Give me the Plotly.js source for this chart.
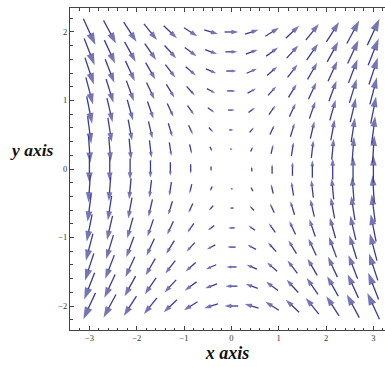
<!DOCTYPE html>
<html>
<head>
<meta charset="utf-8">
<script src="https://cdn.plot.ly/plotly-3.0.1.min.js"></script>
<style>html,body{margin:0;padding:0;background:#fff;}#plot{width:385px;height:367px;}</style>
</head>
<body>
<div id="plot"></div>
<script>
// Grid sample positions (15 x 15)
const xs = [-3, -2.57, -2.14, -1.71, -1.29, -0.86, -0.43, 0, 0.43, 0.86, 1.29, 1.71, 2.14, 2.57, 3];
const ys = [-2, -1.71, -1.43, -1.14, -0.86, -0.57, -0.29, 0, 0.29, 0.57, 0.86, 1.14, 1.43, 1.71, 2];

// Horizontal component of the field, one row per ys value
const U = [
  [-2,-2,-2,-2,-2,-2,-2,-2,-2,-2,-2,-2,-2,-2,-2],
  [-1.71,-1.71,-1.71,-1.71,-1.71,-1.71,-1.71,-1.71,-1.71,-1.71,-1.71,-1.71,-1.71,-1.71,-1.71],
  [-1.43,-1.43,-1.43,-1.43,-1.43,-1.43,-1.43,-1.43,-1.43,-1.43,-1.43,-1.43,-1.43,-1.43,-1.43],
  [-1.14,-1.14,-1.14,-1.14,-1.14,-1.14,-1.14,-1.14,-1.14,-1.14,-1.14,-1.14,-1.14,-1.14,-1.14],
  [-0.86,-0.86,-0.86,-0.86,-0.86,-0.86,-0.86,-0.86,-0.86,-0.86,-0.86,-0.86,-0.86,-0.86,-0.86],
  [-0.57,-0.57,-0.57,-0.57,-0.57,-0.57,-0.57,-0.57,-0.57,-0.57,-0.57,-0.57,-0.57,-0.57,-0.57],
  [-0.29,-0.29,-0.29,-0.29,-0.29,-0.29,-0.29,-0.29,-0.29,-0.29,-0.29,-0.29,-0.29,-0.29,-0.29],
  [0,0,0,0,0,0,0,0,0,0,0,0,0,0,0],
  [0.29,0.29,0.29,0.29,0.29,0.29,0.29,0.29,0.29,0.29,0.29,0.29,0.29,0.29,0.29],
  [0.57,0.57,0.57,0.57,0.57,0.57,0.57,0.57,0.57,0.57,0.57,0.57,0.57,0.57,0.57],
  [0.86,0.86,0.86,0.86,0.86,0.86,0.86,0.86,0.86,0.86,0.86,0.86,0.86,0.86,0.86],
  [1.14,1.14,1.14,1.14,1.14,1.14,1.14,1.14,1.14,1.14,1.14,1.14,1.14,1.14,1.14],
  [1.43,1.43,1.43,1.43,1.43,1.43,1.43,1.43,1.43,1.43,1.43,1.43,1.43,1.43,1.43],
  [1.71,1.71,1.71,1.71,1.71,1.71,1.71,1.71,1.71,1.71,1.71,1.71,1.71,1.71,1.71],
  [2,2,2,2,2,2,2,2,2,2,2,2,2,2,2]
];

// Vertical component of the field, one row per ys value
const V = [
  [-3,-2.57,-2.14,-1.71,-1.29,-0.86,-0.43,0,0.43,0.86,1.29,1.71,2.14,2.57,3],
  [-3,-2.57,-2.14,-1.71,-1.29,-0.86,-0.43,0,0.43,0.86,1.29,1.71,2.14,2.57,3],
  [-3,-2.57,-2.14,-1.71,-1.29,-0.86,-0.43,0,0.43,0.86,1.29,1.71,2.14,2.57,3],
  [-3,-2.57,-2.14,-1.71,-1.29,-0.86,-0.43,0,0.43,0.86,1.29,1.71,2.14,2.57,3],
  [-3,-2.57,-2.14,-1.71,-1.29,-0.86,-0.43,0,0.43,0.86,1.29,1.71,2.14,2.57,3],
  [-3,-2.57,-2.14,-1.71,-1.29,-0.86,-0.43,0,0.43,0.86,1.29,1.71,2.14,2.57,3],
  [-3,-2.57,-2.14,-1.71,-1.29,-0.86,-0.43,0,0.43,0.86,1.29,1.71,2.14,2.57,3],
  [-3,-2.57,-2.14,-1.71,-1.29,-0.86,-0.43,0,0.43,0.86,1.29,1.71,2.14,2.57,3],
  [-3,-2.57,-2.14,-1.71,-1.29,-0.86,-0.43,0,0.43,0.86,1.29,1.71,2.14,2.57,3],
  [-3,-2.57,-2.14,-1.71,-1.29,-0.86,-0.43,0,0.43,0.86,1.29,1.71,2.14,2.57,3],
  [-3,-2.57,-2.14,-1.71,-1.29,-0.86,-0.43,0,0.43,0.86,1.29,1.71,2.14,2.57,3],
  [-3,-2.57,-2.14,-1.71,-1.29,-0.86,-0.43,0,0.43,0.86,1.29,1.71,2.14,2.57,3],
  [-3,-2.57,-2.14,-1.71,-1.29,-0.86,-0.43,0,0.43,0.86,1.29,1.71,2.14,2.57,3],
  [-3,-2.57,-2.14,-1.71,-1.29,-0.86,-0.43,0,0.43,0.86,1.29,1.71,2.14,2.57,3],
  [-3,-2.57,-2.14,-1.71,-1.29,-0.86,-0.43,0,0.43,0.86,1.29,1.71,2.14,2.57,3]
];

const xTicks = [-3, -2, -1, 0, 1, 2, 3];
const yTicks = [-2, -1, 0, 1, 2];

// Style constants for arrow drawing
const ARROW_SCALE = 0.174;
const ARROW_SAT = 10;
const HEAD_PER_MAG = 3.6;
const ARROW_COLOR = '#3a3a9a';

const ax = [], ay = [], sz = [];
for (let j = 0; j < ys.length; j++) {
  for (let i = 0; i < xs.length; i++) {
    const u = U[j][i], v = V[j][i];
    const m = Math.hypot(u, v);
    if (m === 0) continue;
    const k = ARROW_SCALE / (1 + m / ARROW_SAT);
    const dx = u * k, dy = v * k;
    ax.push(xs[i] - dx / 2, xs[i] + dx / 2, null);
    ay.push(ys[j] - dy / 2, ys[j] + dy / 2, null);
    sz.push(0, HEAD_PER_MAG * m, 0);
  }
}

const trace = {
  type: 'scatter',
  mode: 'lines+markers',
  x: ax,
  y: ay,
  connectgaps: false,
  hoverinfo: 'skip',
  line: {color: ARROW_COLOR, width: 1.3},
  marker: {symbol: 'arrow', size: sz, angleref: 'previous', color: ARROW_COLOR, line: {width: 0}}
};

const serif = 'Liberation Serif, Times New Roman, serif';
const tickFont = {family: serif, size: 8.5, color: '#333'};
const layout = {
  width: 385, height: 367,
  margin: {l: 70, r: 0, t: 8, b: 37},
  paper_bgcolor: '#fff', plot_bgcolor: '#fff',
  showlegend: false,
  xaxis: {
    range: [-3.41, 3.245], showgrid: false, zeroline: false,
    showline: true, linecolor: '#444', linewidth: 1, mirror: 'ticks',
    tickmode: 'array', tickvals: xTicks, ticktext: xTicks.map(t => t < 0 ? '\u2212' + Math.abs(t) : String(t)),
    ticks: 'inside', ticklen: 4, tickcolor: '#444', tickfont: tickFont,
    minor: {dtick: 0.2, tick0: 0, ticks: 'inside', ticklen: 2.5, tickcolor: '#444', showgrid: false},
    title: {text: '<b><i>x axis</i></b>', font: {family: serif, size: 18, color: '#111'}, standoff: 2}
  },
  yaxis: {
    range: [-2.35, 2.35], showgrid: false, zeroline: false,
    showline: true, linecolor: '#444', linewidth: 1, mirror: false,
    tickmode: 'array', tickvals: yTicks, ticktext: yTicks.map(t => t < 0 ? '\u2212' + Math.abs(t) : String(t)),
    ticks: 'inside', ticklen: 4, tickcolor: '#444', tickfont: tickFont,
    minor: {dtick: 0.2, tick0: 0, ticks: 'inside', ticklen: 2.5, tickcolor: '#444', showgrid: false}
  },
  annotations: [{
    text: '<b><i>y axis</i></b>', xref: 'paper', yref: 'paper', x: -0.12, y: 0.56,
    xanchor: 'center', yanchor: 'middle', showarrow: false,
    font: {family: serif, size: 17.5, color: '#111'}
  }]
};

Plotly.newPlot('plot', [trace], layout, {staticPlot: true, displayModeBar: false});
</script>
</body>
</html>
